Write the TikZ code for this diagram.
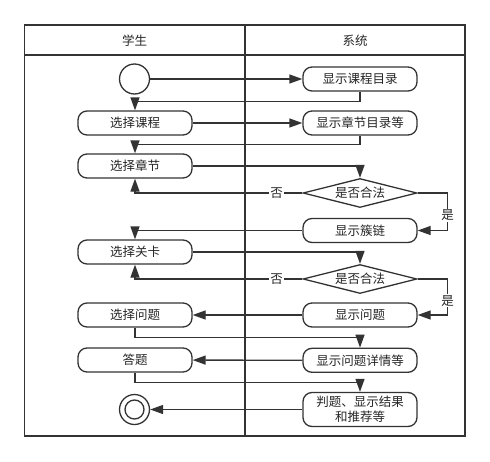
\documentclass[tikz,border=0pt]{standalone}
\usepackage{fontspec}
\newfontfamily\cjk{Noto Sans CJK SC}
\usetikzlibrary{shapes.geometric,arrows.meta}

\tikzstyle{act} = [rectangle, rounded corners=9pt, minimum width=114pt, minimum height=24pt, inner sep=0pt, align=center, draw=black!80, fill=white]
\tikzstyle{dec} = [diamond, aspect=4, minimum width=114pt, minimum height=29pt, inner sep=0pt, draw=black!80, fill=white]
\tikzstyle{lbl} = [fill=white, inner sep=1pt]

\begin{document}
\begin{tikzpicture}[x=1pt,y=-1pt,->,>={Triangle[length=13pt,width=9pt]},line width=1.3pt,draw=black!80,text=black!85,font=\cjk\fontsize{12.5}{15}\selectfont]
\useasboundingbox (0,0) rectangle (490,461);

    % swimlanes
    \draw[-, line width=1.5pt] (24.5,25) rectangle (465,436);
    \draw[-, line width=1.5pt] (24.5,55) -- (465,55);
    \draw[-, line width=1.5pt] (245,25) -- (245,436);
    \node (hs) at (134.7,41) {学生};
    \node (hx) at (355,41) {系统};

    % student
    \node[circle, draw=black!80, minimum size=30pt] (start) at (134.5,79) {};
    \node[act] (SC) at (135,123) {选择课程};
    \node[act] (SZ) at (135,166) {选择章节};
    \node[act] (SG) at (135,252) {选择关卡};
    \node[act] (SW) at (135,315) {选择问题};
    \node[act] (SD) at (135,360) {答题};
    \node[circle, draw=black!80, minimum size=30pt,
          path picture={\draw[-, line width=1.3pt] (path picture bounding box.center) circle (9.5pt);}] (end) at (134.5,409.5) {};

    % system
    \node[act] (XC) at (360,79) {显示课程目录};
    \node[act] (XZ) at (360,123) {显示章节目录等};
    \node[dec] (D1) at (360,193) {是否合法};
    \node[act] (XL) at (360,230.5) {显示簇链};
    \node[dec] (D2) at (360,279) {是否合法};
    \node[act] (XW) at (360,315) {显示问题};
    \node[act] (XX) at (360,360.3) {显示问题详情等};
    \node[act, minimum height=34pt] (XP) at (360,409.5) {判题、显示结果\\和推荐等};

    \draw (start) -- (XC);
    \draw (XC.south) -- ++(0,9.5) -| (SC.north);
    \draw (SC) -- (XZ);
    \draw (XZ.south) -- ++(0,9) -| (SZ.north);
    \draw (SZ.east) -| (D1.north);
    \draw (D1.west) -| node[lbl, pos=0.077] {否} (SZ.south);
    \draw (D1.east) -- ++(30,0) |- node[lbl, pos=0.3] {是} (XL.east);
    \draw (XL.west) -| (SG.north);
    \draw (SG.east) -| (D2.north);
    \draw (D2.west) -| node[lbl, pos=0.077] {否} (SG.south);
    \draw (D2.east) -- ++(30,0) |- node[lbl, pos=0.3] {是} (XW.east);
    \draw (XW) -- (SW);
    \draw (SW.south) -- ++(0,10) -| (XX.north);
    \draw (XX) -- (SD);
    \draw (SD.south) -- ++(0,10) -| (XP.north);
    \draw (XP) -- (end);

\end{tikzpicture}
\end{document}
